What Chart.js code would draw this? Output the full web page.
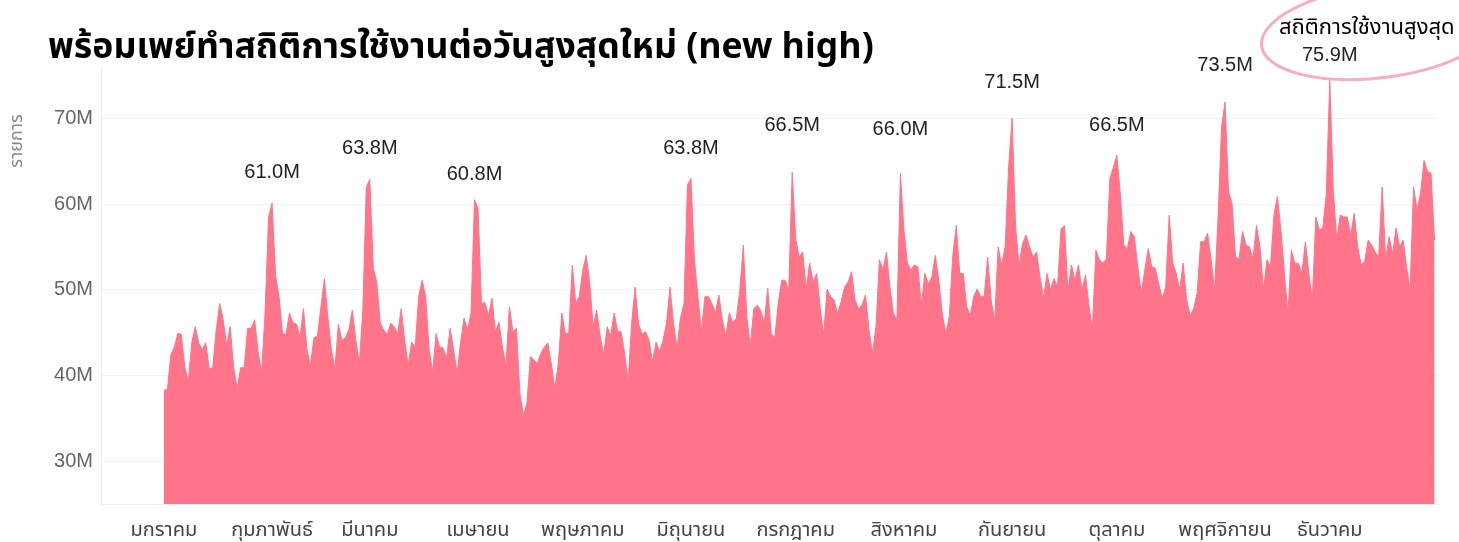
<!DOCTYPE html>
<html lang="th">
<head>
<meta charset="utf-8">
<title>พร้อมเพย์ทำสถิติการใช้งานต่อวันสูงสุดใหม่</title>
<script src="https://cdn.jsdelivr.net/npm/chart.js@4.4.1/dist/chart.umd.min.js"></script>
<style>
  html, body { margin: 0; padding: 0; background: #fff; }
  #wrap { position: relative; width: 1459px; height: 542px; }
  #title {
    position: absolute; left: 48px; top: 20px; margin: 0;
    font: bold 35.6px "Noto Sans Thai", "Liberation Sans", "Noto Sans", sans-serif;
    color: #000; white-space: nowrap;
  }
</style>
</head>
<body>
<div id="wrap">
  <canvas id="chart" width="1459" height="542"></canvas>
  <h1 id="title">พร้อมเพย์ทำสถิติการใช้งานต่อวันสูงสุดใหม่ (new high)</h1>
</div>
<script>
const FONT = '"Noto Sans Thai", "Liberation Sans", "Noto Sans", sans-serif';
const NUM_FONT = '"Liberation Sans", Arial, sans-serif';
const FILL = '#ff7489';

// daily transactions, millions, one array per month
const jan = [38.3, 38.3, 42.4, 43.3, 44.9, 44.8, 41.0, 39.3, 43.8, 45.7, 43.8, 43.0, 43.8, 40.8, 40.9, 45.3,
  48.4, 46.5, 43.5, 45.7, 40.9, 38.5, 40.9, 40.9, 45.5, 45.5, 46.5, 42.8, 40.3, 47.3, 58.5];
const feb = [60.1, 51.7, 49.2, 44.9, 44.8, 47.3, 46.1, 46.0, 44.4, 47.8, 43.0, 41.2, 44.4, 44.6, 48.0, 51.3,
  46.8, 43.0, 40.8, 46.0, 44.1, 44.4, 45.3, 47.6, 44.1, 41.4, 47.6, 62.0];
const mar = [62.9, 52.5, 50.9, 46.1, 45.3, 44.8, 46.1, 45.7, 44.9, 47.8, 44.1, 41.2, 43.9, 43.3, 49.2, 51.1,
  49.2, 43.0, 40.4, 44.9, 43.3, 43.2, 42.0, 45.5, 43.0, 40.3, 43.8, 46.7, 45.3, 47.3, 60.5];
const apr = [59.5, 48.4, 48.5, 47.0, 49.0, 45.1, 46.2, 43.3, 41.2, 48.0, 45.1, 45.5, 37.9, 35.4, 36.7, 42.2,
  41.8, 41.4, 42.6, 43.3, 43.8, 41.4, 38.5, 41.4, 47.3, 44.9, 44.9, 52.9, 48.4, 49.2];
const may = [52.3, 54.0, 50.8, 45.7, 47.6, 44.6, 42.4, 45.7, 44.6, 47.3, 45.1, 45.1, 42.6, 39.3, 46.1, 50.3,
  46.0, 44.8, 45.1, 44.1, 41.6, 43.9, 42.8, 44.1, 46.1, 50.3, 46.1, 43.2, 46.7, 48.4, 62.2];
const jun = [63.0, 53.5, 49.2, 45.1, 49.2, 49.2, 48.4, 47.3, 49.4, 46.5, 44.6, 47.3, 46.1, 46.7, 49.9, 55.2,
  46.8, 43.5, 47.8, 48.2, 47.6, 46.1, 50.2, 44.9, 44.4, 48.4, 51.1, 51.1, 49.9, 63.7];
const jul = [56.0, 53.8, 54.4, 50.1, 53.1, 50.9, 51.9, 48.0, 44.7, 50.1, 49.2, 48.8, 47.2, 48.6, 50.3, 50.9,
  52.1, 48.8, 47.8, 48.2, 49.4, 45.3, 42.6, 45.7, 53.5, 52.3, 54.4, 50.3, 47.2, 46.6, 63.6];
const aug = [57.0, 53.1, 52.3, 52.9, 52.7, 48.2, 51.9, 50.7, 51.5, 54.0, 51.1, 47.2, 44.9, 46.8, 54.0, 57.5,
  51.9, 51.9, 48.0, 47.0, 49.2, 50.1, 49.2, 49.2, 53.8, 48.8, 46.3, 55.0, 52.9, 55.0, 64.3];
const sep = [70.0, 57.3, 52.9, 55.4, 56.4, 55.0, 53.8, 54.4, 51.5, 49.0, 51.9, 50.0, 51.3, 50.3, 57.1, 57.5,
  49.8, 52.9, 51.1, 52.9, 50.0, 51.7, 48.2, 45.5, 54.6, 53.5, 53.1, 53.6, 63.0, 64.3];
const oct = [65.7, 61.2, 55.2, 54.8, 56.8, 56.2, 52.7, 49.6, 52.3, 54.8, 52.7, 52.5, 50.7, 49.0, 50.3, 58.7,
  53.1, 51.9, 50.0, 53.1, 48.8, 47.0, 47.8, 49.6, 55.6, 55.6, 56.6, 53.5, 50.0, 58.5, 69.0];
const nov = [71.9, 61.4, 60.1, 53.8, 53.6, 56.8, 55.2, 55.0, 53.6, 57.5, 55.0, 50.0, 53.5, 52.7, 58.7, 60.9,
  57.0, 51.9, 47.2, 54.6, 53.1, 53.1, 51.9, 55.6, 51.9, 48.8, 58.5, 57.0, 57.2, 61.2];
const dec = [74.5, 61.6, 55.8, 58.7, 58.5, 58.5, 56.4, 58.9, 55.0, 52.9, 53.3, 55.8, 55.2, 54.4, 53.8, 62.0,
  53.6, 56.2, 54.2, 57.2, 55.0, 55.8, 52.7, 50.0, 62.0, 59.3, 61.2, 65.1, 63.8, 63.6, 55.8];

const monthNames = ['มกราคม', 'กุมภาพันธ์', 'มีนาคม', 'เมษายน', 'พฤษภาคม', 'มิถุนายน',
  'กรกฎาคม', 'สิงหาคม', 'กันยายน', 'ตุลาคม', 'พฤศจิกายน', 'ธันวาคม'];
const monthStarts = [0, 31, 59, 90, 120, 151, 181, 212, 243, 273, 304, 334];
const yTicks = [30, 40, 50, 60, 70];

// monthly highs written above the peaks (M)
const peakDays = [31, 59, 89, 151, 180, 211, 243, 273, 304];
const peakValues = [61.0, 63.8, 60.8, 63.8, 66.5, 66.0, 71.5, 66.5, 73.5];
const recordDay = 334;
const recordValue = 75.9;
const recordCaption = 'สถิติการใช้งานสูงสุด';
const yTitle = 'รายการ';

const daily = [].concat(jan, feb, mar, apr, may, jun, jul, aug, sep, oct, nov, dec);
const points = daily.map((v, i) => ({ x: i, y: v }));

// labels, the circled record and the axis title
const notesPlugin = {
  id: 'peakNotes',
  afterDatasetsDraw(chart) {
    const { ctx, scales: { x, y } } = chart;
    ctx.save();
    ctx.font = '20px ' + NUM_FONT;
    ctx.fillStyle = '#222';
    ctx.textAlign = 'center';
    ctx.textBaseline = 'middle';
    peakDays.forEach((d, i) => {
      ctx.fillText(peakValues[i].toFixed(1) + 'M', x.getPixelForValue(d), y.getPixelForValue(peakValues[i]) - 23);
    });

    const rx = x.getPixelForValue(recordDay);
    const ry = y.getPixelForValue(recordValue) - 12;
    ctx.fillText(recordValue.toFixed(1) + 'M', rx, ry);
    ctx.fillStyle = '#000';
    ctx.font = '22px ' + FONT;
    ctx.fillText(recordCaption, rx + 37, ry - 26);
    ctx.strokeStyle = '#f9adbd';
    ctx.lineWidth = 3;
    ctx.beginPath();
    ctx.ellipse(rx + 49, ry - 24, 118, 46, -0.12, 0, Math.PI * 2);
    ctx.stroke();

    ctx.translate(18, 141);
    ctx.rotate(-Math.PI / 2);
    ctx.fillStyle = '#888';
    ctx.font = '18px ' + FONT;
    ctx.fillText(yTitle, 0, 0);
    ctx.restore();
  }
};

new Chart(document.getElementById('chart'), {
  type: 'line',
  data: {
    datasets: [{
      data: points,
      fill: 'start',
      backgroundColor: FILL,
      borderColor: FILL,
      borderWidth: 1,
      pointRadius: 0,
      tension: 0
    }]
  },
  options: {
    responsive: false,
    animation: false,
    layout: { padding: { top: 67, right: 21, bottom: 0, left: 0 } },
    plugins: {
      legend: { display: false },
      tooltip: { enabled: false }
    },
    scales: {
      x: {
        type: 'linear',
        min: -18,
        max: 365,
        afterBuildTicks: (axis) => { axis.ticks = monthStarts.map(v => ({ value: v })); },
        afterFit: (scale) => { scale.height = 38; },
        ticks: {
          callback: (v) => monthNames[monthStarts.indexOf(v)],
          autoSkip: false,
          maxRotation: 0,
          padding: 16,
          color: '#444',
          font: { size: 20, family: FONT }
        },
        grid: { display: false, drawTicks: false },
        border: { color: '#eee' }
      },
      y: {
        min: 25,
        max: 76,
        afterBuildTicks: (axis) => { axis.ticks = yTicks.map(v => ({ value: v })); },
        afterFit: (scale) => { scale.width = 101; },
        ticks: {
          callback: (v) => v + 'M',
          padding: 8,
          color: '#666',
          font: { size: 20, family: NUM_FONT }
        },
        grid: { color: '#f2f2f2', drawTicks: false },
        border: { color: '#eee' }
      }
    }
  },
  plugins: [notesPlugin]
});
</script>
</body>
</html>
